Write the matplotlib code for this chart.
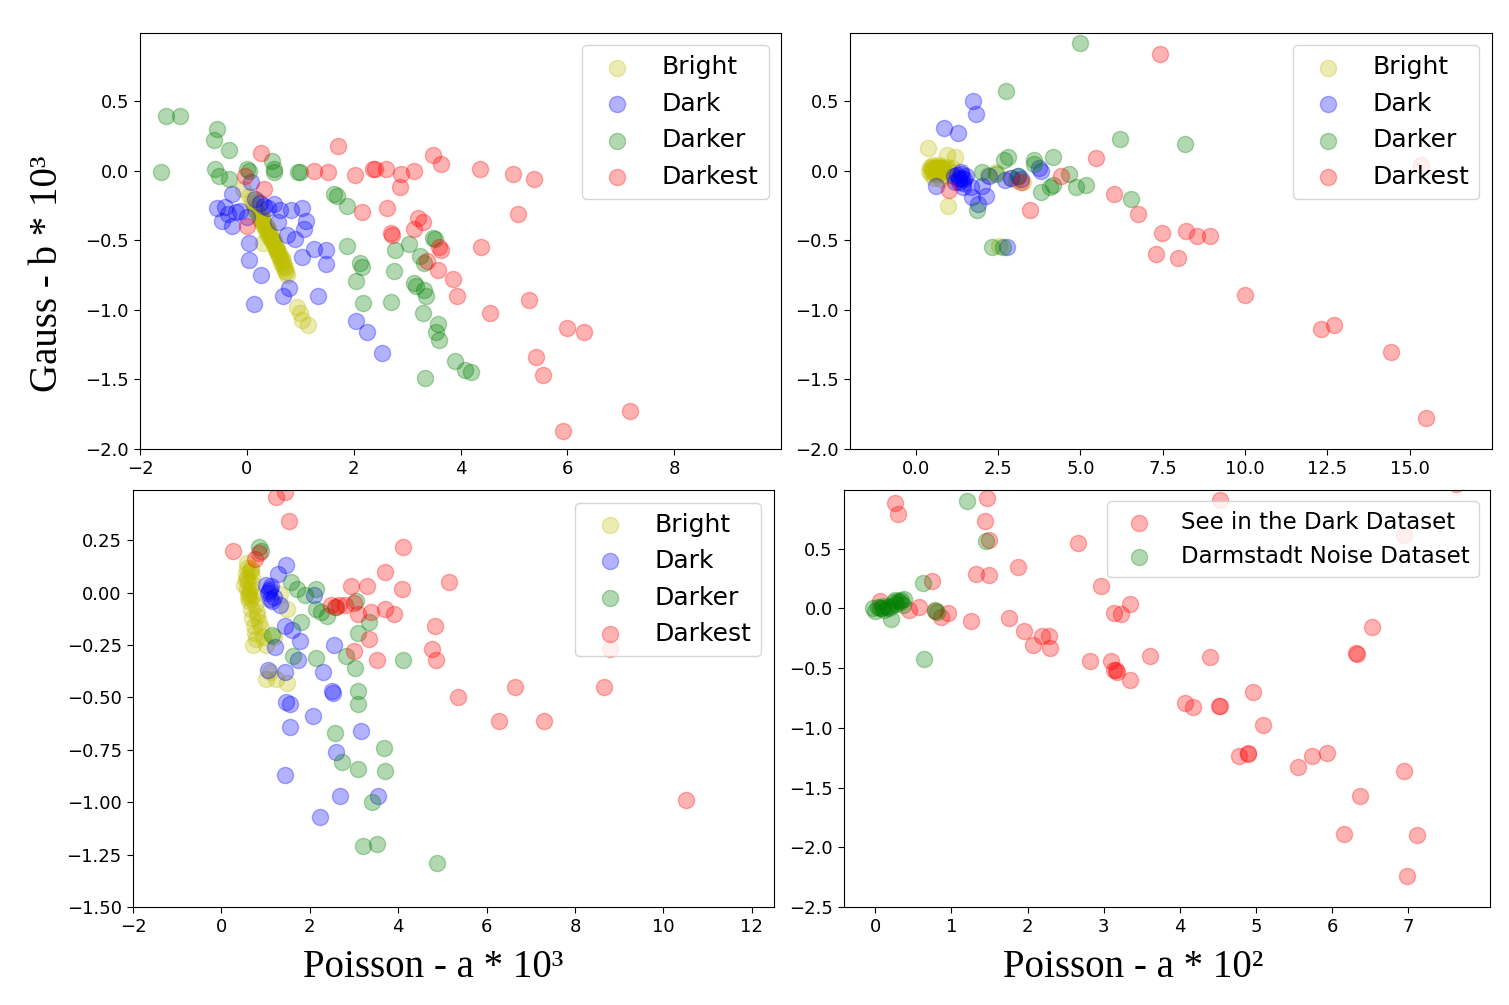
import matplotlib
matplotlib.use("Agg")
import matplotlib.pyplot as plt

# ---- top-left panel (Poisson a*1e3 vs Gauss b*1e3)
bright1_x = [0.04, 0.12, 0.16, 0.22, 0.25, 0.30, 0.36, 0.39, 0.46, 0.51, 0.55, 0.59, 0.63, 0.70, 0.75,
             0.93, 0.99, 1.15, 1.03, 0.30, -0.08, 0.20, 0.28, 0.33, 0.42, 0.48, 0.57, 0.66, 0.72,
             0.10, 0.18, 0.26, 0.35, 0.44, 0.53, 0.61, 0.68,
             0.15, 0.21, 0.27, 0.31, 0.37, 0.41, 0.45, 0.50, 0.54, 0.58, 0.62, 0.67, 0.71, 0.74,
             0.19, 0.29, 0.38, 0.47, 0.56, 0.64]
bright1_y = [-0.18, -0.23, -0.28, -0.31, -0.35, -0.39, -0.42, -0.46, -0.49, -0.53, -0.57, -0.60, -0.66, -0.70, -0.75,
             -0.98, -1.02, -1.11, -1.07, -0.52, -0.13, -0.26, -0.33, -0.40, -0.45, -0.51, -0.58, -0.63, -0.72,
             -0.21, -0.29, -0.36, -0.43, -0.48, -0.55, -0.62, -0.68,
             -0.25, -0.30, -0.33, -0.37, -0.40, -0.44, -0.47, -0.50, -0.55, -0.58, -0.61, -0.65, -0.69, -0.73,
             -0.22, -0.34, -0.41, -0.50, -0.56, -0.64]
dark1_x = [0.08, -0.28, -0.55, -0.41, -0.20, -0.46, -0.28, -0.12, 0.16, 0.50, 0.62, 0.83, 1.03, 1.11, 1.07,
           0.59, 0.75, 0.91, 0.04, 0.04, 1.26, 1.48, 1.48, 1.03, 0.26, 0.79, 0.67, 0.14, 1.33, 2.05, 2.25, 2.53,
           0.24, 0.32, 0.40, -0.35, 0.0]
dark1_y = [-0.08, -0.17, -0.27, -0.26, -0.30, -0.36, -0.40, -0.29, -0.20, -0.24, -0.28, -0.28, -0.27, -0.36, -0.42,
           -0.37, -0.46, -0.49, -0.52, -0.64, -0.56, -0.57, -0.67, -0.62, -0.75, -0.84, -0.90, -0.96, -0.90, -1.08, -1.16, -1.31,
           -0.23, -0.25, -0.27, -0.31, -0.33]
darker1_x = [-1.52, -1.26, -1.60, -0.55, -0.62, -0.34, -0.59, -0.53, -0.34, 0.0, 0.04, 0.47, 0.51, 0.50, 0.95, 0.99,
             1.64, 1.68, 1.88, 1.88, 2.12, 2.16, 2.04, 2.18, 2.69, 2.78, 3.04, 2.76, 3.24, 3.32, 3.12, 3.16, 3.32,
             3.36, 3.30, 3.49, 3.52, 3.58, 3.54, 3.59, 3.89, 4.09, 4.19, 3.34]
darker1_y = [0.39, 0.39, -0.01, 0.30, 0.22, 0.15, 0.01, -0.04, -0.06, 0.01, 0.0, 0.07, -0.01, 0.01, -0.01, -0.01,
             -0.17, -0.18, -0.25, -0.54, -0.66, -0.69, -0.79, -0.95, -0.94, -0.57, -0.53, -0.72, -0.61, -0.66, -0.81, -0.83, -0.86,
             -0.90, -1.02, -0.48, -0.49, -1.10, -1.16, -1.22, -1.37, -1.43, -1.45, -1.49]
darkest1_x = [0.26, 1.71, 1.25, 1.52, 2.03, 2.37, 2.61, 2.88, 3.12, 2.86, 3.48, 3.63, 4.36, 4.98, 5.37, 5.08,
              2.16, 2.62, 3.20, 3.29, 3.12, 2.69, 2.71, 3.59, 3.63, 3.38, 3.58, 3.85, 3.93, 4.38, 5.28, 4.56,
              6.00, 6.32, 5.41, 5.55, 7.17, 5.92, -0.04, 0.32, 0.0, 2.40]
darkest1_y = [0.13, 0.18, 0.0, -0.01, -0.03, 0.01, 0.01, -0.02, 0.0, -0.12, 0.11, 0.05, 0.01, -0.02, -0.06, -0.31,
              -0.30, -0.27, -0.34, -0.37, -0.42, -0.45, -0.46, -0.55, -0.57, -0.65, -0.71, -0.78, -0.90, -0.55, -0.93, -1.02,
              -1.13, -1.16, -1.34, -1.47, -1.73, -1.87, -0.04, -0.13, -0.40, 0.01]

# ---- top-right panel
bright2_x = [0.36, 0.95, 1.20, 0.99, 2.53, 2.42, 3.04, 3.25, 0.45, 0.55, 0.65, 0.75, 0.85, 0.95, 1.05,
             0.50, 0.60, 0.70, 0.80, 0.90, 0.40, 1.10, 0.55, 0.75, 2.2, 2.9,
             0.42, 0.48, 0.52, 0.58, 0.62, 0.68, 0.72, 0.78, 0.82, 0.88, 0.46, 0.56, 0.66, 0.76, 0.86, 0.96]
bright2_y = [0.16, 0.11, 0.10, -0.25, -0.54, -0.01, -0.07, -0.08, 0.02, 0.03, 0.01, 0.02, 0.0, 0.03, -0.01,
             0.0, -0.02, 0.04, 0.01, -0.03, 0.0, 0.02, -0.05, -0.06, -0.03, -0.05,
             0.03, 0.01, 0.04, 0.02, 0.0, 0.03, 0.01, -0.01, 0.02, 0.0, -0.02, -0.01, 0.02, 0.03, -0.02, 0.01]
dark2_x = [1.75, 1.83, 0.85, 1.27, 0.60, 1.16, 1.37, 1.44, 1.69, 1.72, 1.90, 2.14, 2.0, 2.70, 3.11, 3.74,
           3.81, 2.77, 2.21, 1.30, 1.2, 1.4, 2.9, 3.2,
           1.25, 1.32, 1.38, 1.45, 1.52, 1.30, 1.42]
dark2_y = [0.50, 0.41, 0.31, 0.27, -0.11, -0.04, -0.01, -0.12, -0.12, -0.19, -0.24, -0.18, -0.11, -0.07, -0.04, 0.02,
           0.0, -0.55, -0.04, -0.06, -0.08, -0.05, -0.05, -0.06,
           -0.03, -0.05, -0.02, -0.06, -0.04, -0.08, -0.09]
darker2_x = [4.99, 2.74, 6.19, 8.18, 2.67, 2.81, 3.58, 4.16, 3.60, 4.65, 4.86, 5.18, 3.81, 4.16, 4.09, 6.54,
             2.30, 2.65, 1.86, 2.42, 2.0, 3.11]
darker2_y = [0.92, 0.57, 0.23, 0.19, 0.08, 0.10, 0.08, 0.10, 0.05, -0.02, -0.12, -0.10, -0.15, -0.10, -0.12, -0.20,
             -0.55, -0.55, -0.28, -0.02, -0.01, -0.04]
darkest2_x = [7.42, 5.46, 15.34, 6.01, 6.75, 3.46, 4.41, 7.49, 8.21, 8.53, 8.95, 7.30, 7.97, 10.0, 12.30, 12.71,
              14.43, 15.50, 1.02, 3.18]
darkest2_y = [0.84, 0.09, 0.04, -0.17, -0.31, -0.28, -0.04, -0.45, -0.43, -0.47, -0.47, -0.60, -0.63, -0.89, -1.14, -1.11,
              -1.30, -1.78, -0.14, -0.08]

# ---- bottom-left panel
bright3_x = [0.57, 0.67, 0.57, 0.52, 0.62, 0.67, 0.76, 0.81, 0.86, 0.76, 0.95, 0.71, 1.0, 1.19, 1.33, 1.48,
             1.10, 1.24, 1.48, 1.0, 0.55, 0.60, 0.70, 0.65, 0.72, 0.80, 0.90, 0.60, 0.68,
             0.55, 0.58, 0.62, 0.64, 0.66, 0.70, 0.74, 0.78, 0.58, 0.63, 0.69]
bright3_y = [0.14, 0.11, 0.07, 0.035, 0.0, -0.03, -0.06, -0.11, -0.14, -0.19, -0.21, -0.25, -0.25, -0.21, -0.005, -0.08,
             -0.38, -0.41, -0.43, -0.41, 0.09, 0.05, 0.08, 0.02, -0.01, -0.09, -0.17, -0.02, 0.12,
             0.06, 0.02, -0.04, 0.10, -0.08, -0.12, -0.16, -0.22, 0.12, -0.01, 0.04]
dark3_x = [1.46, 1.29, 1.0, 1.05, 1.10, 1.33, 2.10, 1.43, 1.60, 1.79, 2.55, 1.73, 1.22, 1.43, 2.29, 1.05,
           2.50, 2.52, 1.46, 1.55, 2.07, 1.55, 3.16, 2.59, 1.43, 2.69, 3.55, 2.24, 1.1, 1.2,
           1.08, 1.15, 1.12]
dark3_y = [0.13, 0.09, 0.035, 0.0, -0.03, -0.06, -0.01, -0.16, -0.18, -0.23, -0.25, -0.32, -0.26, -0.38, -0.38, -0.37,
           -0.47, -0.48, -0.52, -0.53, -0.59, -0.64, -0.66, -0.76, -0.87, -0.97, -0.97, -1.07, 0.02, -0.02,
           0.01, -0.04, 0.03]
darker3_x = [0.86, 0.90, 1.57, 1.71, 2.14, 1.90, 2.14, 2.38, 1.81, 3.05, 3.33, 3.10, 1.62, 2.14, 2.81, 3.02,
             4.12, 3.10, 3.10, 2.57, 3.67, 2.74, 3.08, 3.70, 3.40, 3.21, 3.52, 4.88, 1.14, 2.25, 2.6]
darker3_y = [0.22, 0.20, 0.05, 0.02, 0.02, -0.01, -0.08, -0.11, -0.14, -0.04, -0.14, -0.19, -0.30, -0.31, -0.30, -0.36,
             -0.32, -0.47, -0.53, -0.67, -0.74, -0.81, -0.84, -0.85, -1.00, -1.21, -1.20, -1.29, -0.20, -0.09, -0.07]
darkest3_x = [1.24, 1.45, 1.52, 0.27, 4.10, 3.70, 5.16, 2.93, 3.29, 4.08, 2.48, 2.67, 3.0, 3.38, 3.71, 3.90,
              3.10, 4.84, 3.35, 3.0, 3.52, 4.76, 4.86, 8.79, 6.65, 8.65, 5.36, 6.29, 7.29, 10.50, 0.76, 0.86, 2.58, 2.8]
darkest3_y = [0.455, 0.48, 0.34, 0.20, 0.22, 0.10, 0.05, 0.03, 0.03, 0.02, -0.06, -0.06, -0.05, -0.09, -0.08, -0.10,
              -0.10, -0.16, -0.22, -0.28, -0.32, -0.27, -0.32, -0.27, -0.45, -0.45, -0.50, -0.61, -0.61, -0.99, 0.16, 0.19, -0.07, -0.06]

# ---- bottom-right panel (Poisson a*1e2)
sid_x = [0.26, 0.30, 1.47, 1.44, 1.50, 4.53, 7.63, 2.66, 1.88, 1.32, 1.50, 0.75, 2.97, 6.94, 3.34, 3.13, 3.22,
         0.06, 0.57, 0.45, 0.78, 0.86, 0.96, 1.26, 1.76, 1.95, 2.07, 2.19, 2.28, 2.30, 2.82, 3.09, 3.14, 3.17,
         3.35, 3.61, 4.40, 6.31, 6.52, 4.07, 4.17, 4.51, 4.52, 4.96, 5.09, 4.78, 4.89, 4.90, 5.55, 5.73, 5.93,
         6.94, 6.37, 6.16, 7.11, 6.98, 6.32, 3.16]
sid_y = [0.88, 0.79, 0.92, 0.73, 0.57, 0.91, 1.04, 0.55, 0.35, 0.29, 0.28, 0.23, 0.19, 0.61, 0.04, -0.04, -0.05,
         0.06, 0.01, -0.01, -0.02, -0.07, -0.04, -0.11, -0.08, -0.19, -0.31, -0.23, -0.23, -0.33, -0.44, -0.44, -0.52, -0.53,
         -0.60, -0.40, -0.41, -0.37, -0.16, -0.79, -0.83, -0.82, -0.82, -0.70, -0.98, -1.24, -1.21, -1.22, -1.33, -1.24, -1.21,
         -1.36, -1.57, -1.89, -1.90, -2.24, -0.38, -0.52]
darm_x = [1.20, 1.46, 0.63, 0.64, 0.21, -0.03, 0.03, 0.09, 0.15, 0.21, 0.27, 0.34, 0.38, 0.0, 0.12, 0.24, 0.30,
          0.78, 0.81, 0.06, 0.18, 0.33, 0.36, 0.10, 0.26]
darm_y = [0.90, 0.56, 0.21, -0.42, -0.09, 0.0, 0.01, 0.0, 0.01, 0.02, 0.04, 0.07, 0.08, -0.02, -0.01, 0.05, 0.06,
          -0.01, -0.03, 0.0, 0.0, 0.05, 0.03, 0.02, 0.07]

labels = ['Bright', 'Dark', 'Darker', 'Darkest']
colors = ['y', 'b', 'g', 'r']
S = 135
A = 0.3
TICK_FS = 13

fig = plt.figure(figsize=(15.09, 10.05), dpi=100)
ax1 = fig.add_axes([0.0928, 0.5532, 0.4248, 0.4140])
ax2 = fig.add_axes([0.5633, 0.5532, 0.4254, 0.4140])
ax3 = fig.add_axes([0.0881, 0.0975, 0.4248, 0.4149])
ax4 = fig.add_axes([0.5593, 0.0975, 0.4281, 0.4149])

groups = [
    (ax1, [(bright1_x, bright1_y), (dark1_x, dark1_y), (darker1_x, darker1_y), (darkest1_x, darkest1_y)]),
    (ax2, [(bright2_x, bright2_y), (dark2_x, dark2_y), (darker2_x, darker2_y), (darkest2_x, darkest2_y)]),
    (ax3, [(bright3_x, bright3_y), (dark3_x, dark3_y), (darker3_x, darker3_y), (darkest3_x, darkest3_y)]),
]
for ax, sets in groups:
    for (xs, ys), c, lab in zip(sets, colors, labels):
        ax.scatter(xs, ys, s=S, c=c, alpha=A, label=lab)
    ax.legend(loc='upper right', fontsize=18)

ax4.scatter(sid_x, sid_y, s=S, c='r', alpha=A, label='See in the Dark Dataset')
ax4.scatter(darm_x, darm_y, s=S, c='g', alpha=A, label='Darmstadt Noise Dataset')
ax4.legend(loc='upper right', fontsize=16.5)

ax1.set_xlim(-2, 10)
ax1.set_ylim(-2.0, 0.99)
ax1.set_xticks([-2, 0, 2, 4, 6, 8])
ax1.set_yticks([-2.0, -1.5, -1.0, -0.5, 0.0, 0.5])

ax2.set_xlim(-2.0, 17.5)
ax2.set_ylim(-2.0, 0.99)
ax2.set_xticks([0.0, 2.5, 5.0, 7.5, 10.0, 12.5, 15.0])
ax2.set_yticks([-2.0, -1.5, -1.0, -0.5, 0.0, 0.5])

ax3.set_xlim(-2, 12.5)
ax3.set_ylim(-1.5, 0.49)
ax3.set_xticks([-2, 0, 2, 4, 6, 8, 10, 12])
ax3.set_yticks([-1.5, -1.25, -1.0, -0.75, -0.5, -0.25, 0.0, 0.25])

ax4.set_xlim(-0.41, 8.07)
ax4.set_ylim(-2.5, 0.99)
ax4.set_xticks([0, 1, 2, 3, 4, 5, 6, 7])
ax4.set_yticks([-2.5, -2.0, -1.5, -1.0, -0.5, 0.0, 0.5])

for ax in (ax1, ax2, ax3, ax4):
    ax.tick_params(labelsize=TICK_FS, length=4.5)

serif = ['Liberation Serif', 'DejaVu Serif']
fig.text(48 / 1509, 1 - 274 / 1005, 'Gauss - b * 10\u00b3', rotation=90, ha='center', va='center',
         fontsize=28, family=serif)
fig.text(433 / 1509, 1 - 967 / 1005, 'Poisson - a * 10\u00b3', ha='center', va='center',
         fontsize=28, family=serif)
fig.text(1133 / 1509, 1 - 967 / 1005, 'Poisson - a * 10\u00b2', ha='center', va='center',
         fontsize=28, family=serif)

fig.savefig('out.png', dpi=100)
